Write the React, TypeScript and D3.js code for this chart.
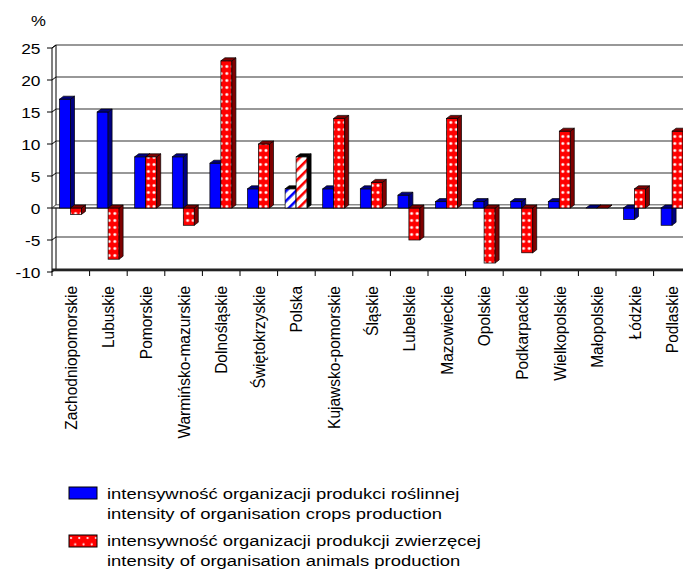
import React from "react";
import * as d3 from "d3";

const categories = [
  "Zachodniopomorskie", "Lubuskie", "Pomorskie", "Warmińsko-mazurskie", "Dolnośląskie",
  "Świętokrzyskie", "Polska", "Kujawsko-pomorskie", "Śląskie", "Lubelskie", "Mazowieckie",
  "Opolskie", "Podkarpackie", "Wielkopolskie", "Małopolskie", "Łódzkie", "Podlaskie",
];
const cropValues = [17, 15, 8, 8, 7, 3, 3, 3, 3, 2, 1, 1, 1, 1, 0, -1.8, -2.7];
const animalValues = [-1, -8, 8, -2.7, 23, 10, 8, 14, 4, -5, 14, -8.6, -7, 12, 0, 3, 12];
const yTicks = [25, 20, 15, 10, 5, 0, -5, -10];
const legendLines = [
  "intensywność organizacji produkci roślinnej",
  "intensity of organisation crops production",
  "intensywność organizacji produkcji zwierzęcej",
  "intensity of organisation animals production",
];

const W = 683, H = 570;
const DX = 4, DY = 3;
const FONT = "'Liberation Sans', Arial, Helvetica, sans-serif";

const x = d3.scaleBand<string>().domain(categories).range([52, 52 + 17 * 37.6]).padding(0);
const y = d3.scaleLinear().domain([-10, 25]).range([269, 45]);

function Bar({ x0, w, v, front, side, top }: { x0: number; w: number; v: number; front: string; side: string; top: string }) {
  const t = y(Math.max(v, 0));
  const b = y(Math.min(v, 0));
  const sidePts = [[x0 + w, t + DY], [x0 + w + DX, t], [x0 + w + DX, b], [x0 + w, b + DY]];
  const topPts = [[x0, t + DY], [x0 + DX, t], [x0 + w + DX, t], [x0 + w, t + DY]];
  const line = (p: number[][]) => p.map((q) => q.join(",")).join(" ");
  return (
    <g stroke="#000" strokeWidth={0.7}>
      <rect x={x0} y={t + DY} width={w} height={Math.max(b - t, 0)} fill={front} />
      <polygon points={line(sidePts)} fill={side} />
      <polygon points={line(topPts)} fill={top} />
    </g>
  );
}

export default function App() {
  const bw = x.bandwidth();
  const y0 = y(0);
  const xr = x.range()[1];
  return (
    <svg width={W} height={H} style={{ position: "absolute", left: 0, top: 0, background: "#fff" }} fontFamily={FONT}>
      <defs>
        <pattern id="dots" patternUnits="userSpaceOnUse" width={5.6} height={7}>
          <rect width={5.6} height={7} fill="#ff0000" />
          <circle cx={2.8} cy={3.5} r={1.7} fill="#ff9a9a" />
          <circle cx={2.8} cy={3.5} r={1} fill="#ffffff" />
        </pattern>
        <pattern id="dotsLegend" patternUnits="userSpaceOnUse" x={69} y={535} width={8.3} height={12.6}>
          <rect width={8.3} height={12.6} fill="#ff0000" />
          <circle cx={2} cy={3} r={1.1} fill="#ffffff" />
          <circle cx={6.2} cy={9.3} r={1.1} fill="#ffffff" />
        </pattern>
        <pattern id="stripesRed" patternUnits="userSpaceOnUse" width={7} height={7} patternTransform="rotate(45)">
          <rect width={7} height={7} fill="#ffffff" />
          <rect width={2.6} height={7} fill="#ff0000" />
        </pattern>
        <pattern id="stripesBlue" patternUnits="userSpaceOnUse" width={7} height={7} patternTransform="rotate(45)">
          <rect width={7} height={7} fill="#ffffff" />
          <rect width={2.6} height={7} fill="#0000ff" />
        </pattern>
      </defs>

      {/* percent sign */}
      <text transform="translate(31,26) scale(1.08,1)" fontSize={15.5}>%</text>

      {/* back wall gridlines */}
      {yTicks.filter((t) => t !== -10).map((t) => (
        <line key={t} x1={52 + DX} x2={W} y1={y(t)} y2={y(t)} stroke="#333" strokeWidth={1.2} />
      ))}

      {/* left wall */}
      <line x1={52} x2={52} y1={y(25) + DY} y2={y(-10) + DY} stroke="#000" strokeWidth={1} />
      <line x1={52 + DX} x2={52 + DX} y1={y(25)} y2={y(-10)} stroke="#000" strokeWidth={1} />
      <line x1={52} x2={52 + DX} y1={y(25) + DY} y2={y(25)} stroke="#000" strokeWidth={1} />
      {yTicks.map((t) => (
        <g key={t}>
          <line x1={47} x2={52} y1={y(t) + DY} y2={y(t) + DY} stroke="#000" strokeWidth={1} />
          <line x1={52} x2={52 + DX} y1={y(t) + DY} y2={y(t)} stroke="#000" strokeWidth={1} />
          <text
            transform={`translate(40.5,${y(t) + DY}) scale(1.12,1)`}
            textAnchor="end"
            dominantBaseline="central"
            fontSize={15.5}
            fill="#000"
          >
            {t}
          </text>
        </g>
      ))}

      {/* bottom floor edge */}
      <rect x={52} y={y(-10) - 0.5} width={W - 52} height={2.8} fill="#222" />
      {d3.range(categories.length + 1).map((i) => {
        const xx = x.range()[0] + i * bw;
        return <line key={i} x1={xx} x2={xx} y1={y(-10) + 2} y2={y(-10) + 7} stroke="#000" strokeWidth={1} />;
      })}

      {/* floor at zero */}
      <polygon
        points={`52,${y0 + DY} ${52 + DX},${y0} ${xr + DX},${y0} ${xr},${y0 + DY}`}
        fill="#ffffff"
        stroke="#777"
        strokeWidth={0.8}
      />
      <line x1={52} x2={W} y1={y0 + DY} y2={y0 + DY} stroke="#000" strokeWidth={1} />

      {/* bars */}
      {categories.map((c, i) => {
        const s = x(c) as number;
        const pl = c === "Polska";
        return (
          <g key={c}>
            <Bar
              x0={s + 7.5}
              w={11}
              v={cropValues[i]}
              front={pl ? "url(#stripesBlue)" : "#0000ff"}
              side={pl ? "#000" : "#000080"}
              top={pl ? "#000" : "#000080"}
            />
            <Bar
              x0={s + 18.5}
              w={11}
              v={animalValues[i]}
              front={pl ? "url(#stripesRed)" : "url(#dots)"}
              side={pl ? "#000" : "#800000"}
              top={pl ? "#000" : "#800000"}
            />
          </g>
        );
      })}

      {/* category labels */}
      {categories.map((c) => {
        const cx = (x(c) as number) + bw / 2;
        return (
          <text
            key={c}
            transform={`translate(${cx},286) rotate(-90) scale(1,1.1)`}
            textAnchor="end"
            dy="0.35em"
            fontSize={15.5}
            fill="#000"
          >
            {c}
          </text>
        );
      })}

      {/* legend */}
      <rect x={69} y={487} width={28} height={12} fill="#0000ff" stroke="#000" strokeWidth={1} />
      <rect x={69} y={535} width={28} height={12} fill="url(#dotsLegend)" stroke="#000" strokeWidth={1} />
      {legendLines.map((l, i) => {
        const by = [499, 519, 545.5, 565.5][i];
        return (
          <text key={i} transform={`translate(107,${by}) scale(1.19,1)`} fontSize={15.5} fill="#000">
            {l}
          </text>
        );
      })}
    </svg>
  );
}
